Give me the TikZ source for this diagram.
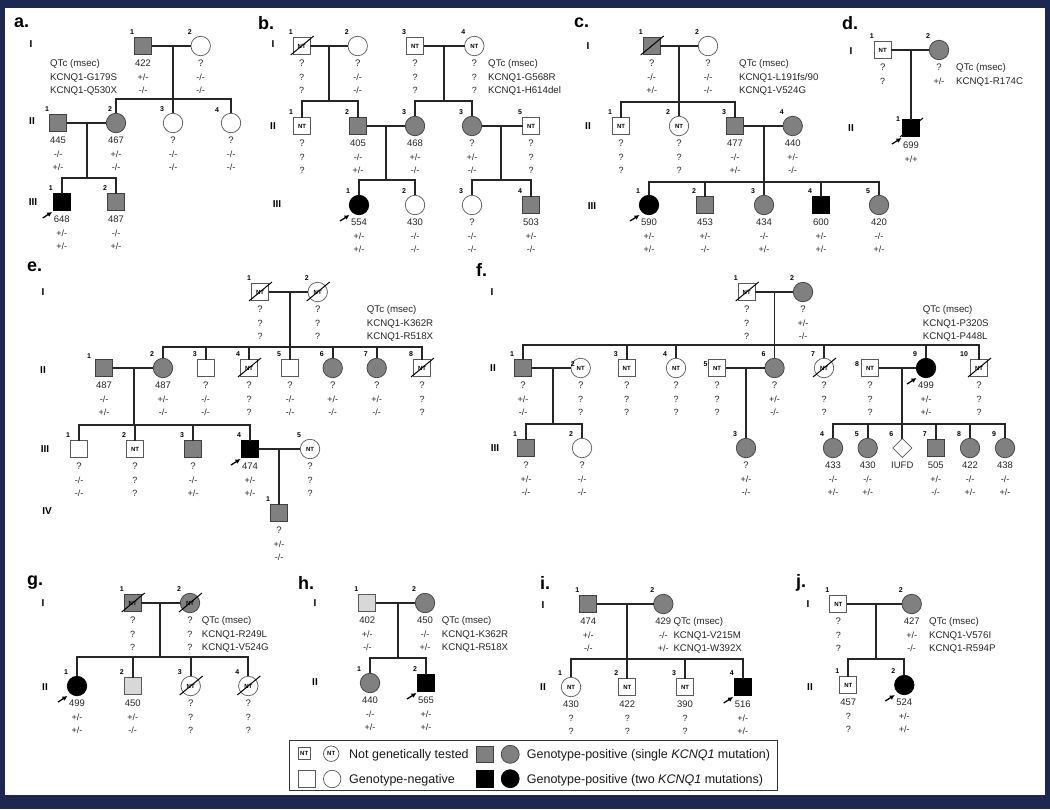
\documentclass[tikz,border=0pt]{standalone}
\usepackage{fontspec}
\setmainfont{Liberation Sans}
\usetikzlibrary{arrows.meta,shapes.geometric}
\definecolor{navyb}{RGB}{28,40,82}
\definecolor{gpcol}{RGB}{128,128,128}
\definecolor{glcol}{RGB}{216,216,216}
\tikzset{
 sym/.style={draw=black!65, line width=0.7pt, inner sep=0pt, outer sep=0pt},
 sq/.style={sym, rectangle, minimum size=17pt},
 ci/.style={sym, circle, minimum size=19.5pt},
 di/.style={sym, diamond, minimum size=19pt},
 fneg/.style={fill=white},
 fgp/.style={fill=gpcol, draw=black!75},
 flt/.style={fill=glcol},
 fbk/.style={fill=black, draw=black},
 nt/.style={label={[ntlab]center:NT}},
 ntlab/.style={font=\fontsize{6}{6}\selectfont\bfseries, inner sep=0pt, text=black},
 numl/.style={font=\fontsize{7}{7}\selectfont\bfseries, inner sep=0pt},
 qt/.style={font=\fontsize{9.5}{10}\selectfont, anchor=base, inner sep=0pt, text=black!85},
 gt/.style={font=\fontsize{9}{9}\selectfont, anchor=base, inner sep=0pt, text=black!85},
 lt/.style={font=\fontsize{9.7}{10}\selectfont, anchor=base west, inner sep=0pt, text=black!85},
 lgt/.style={font=\fontsize{12.5}{13}\selectfont, anchor=base west, inner sep=0pt, text=black!90},
 plab/.style={font=\fontsize{18}{18}\selectfont\bfseries, anchor=west, inner sep=0pt},
 gen/.style={font=\fontsize{10}{10}\selectfont\bfseries, inner sep=0pt},
 pl/.style={line width=1.8pt, black!85},
 decl/.style={line width=1pt, black},
 parr/.style={line width=1.3pt, -{Latex[length=5pt,width=5pt]}},
}
% individual: [number offset]{name}{x}{y}{style}{num}{row1}{row2}{row3}
\newcommand{\ind}[9][-11,-14]{%
 \node[#5] (#2) at (#3,#4) {};
 \node[numl] (#2-n) at ([shift={(#1)}]#2.center) {#6};
 \node[qt] (#2-a) at ([shift={(0,20.5)}]#2.center) {#7};
 \node[gt] (#2-b) at ([shift={(0,34)}]#2.center) {#8};
 \node[gt] (#2-c) at ([shift={(0,47.5)}]#2.center) {#9};
}
\newcommand{\qleg}[5]{%
 \node[lt] (#1-a) at (#2,#3+20.5) {QTc (msec)};
 \node[lt] (#1-b) at (#2,#3+34) {#4};
 \node[lt] (#1-c) at (#2,#3+47.5) {#5};
}
\newcommand{\dec}[1]{\draw[decl] ([shift={(-11,9)}]#1.center) -- ([shift={(12,-10)}]#1.center);}
\newcommand{\prb}[1]{\draw[parr] ([shift={(-19,16)}]#1.center) -- ([shift={(-9.5,10)}]#1.center);}
\begin{document}
\begin{tikzpicture}[x=1pt,y=-1pt]
\fill[navyb] (0,0) rectangle (1050,809);
\fill[white] (5,8) rectangle (1045,795);
\useasboundingbox (0,0) rectangle (1050,809);

% ===== a =====
\node[plab] (a-lab) at (14,23) {a.};
\node[gen] (a-g1) at (31,44) {I};
\node[gen] (a-g2) at (32,121) {II};
\node[gen] (a-g3) at (33,202) {III};
\ind{a-I1}{143}{46}{sq,fgp}{1}{422}{+/-}{-/-}
\ind{a-I2}{200.7}{46}{ci,fneg}{2}{?}{-/-}{-/-}
\qleg{a-q}{50}{46}{KCNQ1-G179S}{KCNQ1-Q530X}
\ind{a-II1}{58}{123}{sq,fgp}{1}{445}{-/-}{+/-}
\ind[-6,-14]{a-II2}{116}{123}{ci,fgp}{2}{467}{+/-}{-/-}
\ind{a-II3}{173}{123}{ci,fneg}{3}{?}{-/-}{-/-}
\ind[-14,-13]{a-II4}{231}{123}{ci,fneg}{4}{?}{-/-}{-/-}
\ind{a-III1}{61.7}{202}{sq,fbk}{1}{648}{+/-}{+/-}
\ind{a-III2}{116}{202}{sq,fgp}{2}{487}{-/-}{+/-}
\prb{a-III1}
\coordinate (a-m1) at (173,46); \coordinate (a-s1) at (173,99);
\coordinate (a-m2) at (87,123); \coordinate (a-s2) at (87,178);
\draw[pl] (a-I1) -- (a-I2);
\draw[pl] (a-m1) -- (a-II3);
\draw[pl] (a-II2) |- (a-s1) -| (a-II4);
\draw[pl] (a-II1) -- (a-II2);
\draw[pl] (a-m2) -- (a-s2);
\draw[pl] (a-III1) |- (a-s2) -| (a-III2);

% ===== b =====
\node[plab] (b-lab) at (258,23) {b.};
\node[gen] (b-g1) at (273,44) {I};
\node[gen] (b-g2) at (273,126) {II};
\node[gen] (b-g3) at (277,204) {III};
\ind{b-I1}{301.7}{46}{sq,fneg,nt}{1}{?}{?}{?}
\ind{b-I2}{357.7}{46}{ci,fneg}{2}{?}{-/-}{-/-}
\ind{b-I3}{415}{46}{sq,fneg,nt}{3}{?}{?}{?}
\ind{b-I4}{474.3}{46}{ci,fneg,nt}{4}{?}{?}{?}
\qleg{b-q}{488}{46}{KCNQ1-G568R}{KCNQ1-H614del}
\ind{b-II1}{302}{126}{sq,fneg,nt}{1}{?}{?}{?}
\ind{b-II2}{358}{126}{sq,fgp}{2}{405}{-/-}{+/-}
\ind{b-II3}{415}{126}{ci,fgp}{3}{468}{+/-}{-/-}
\ind{b-II4}{472}{126}{ci,fgp}{3}{?}{+/-}{-/-}
\ind{b-II5}{531}{126}{sq,fneg,nt}{5}{?}{?}{?}
\ind{b-III1}{359}{205}{ci,fbk}{1}{554}{+/-}{+/-}
\ind{b-III2}{415}{205}{ci,fneg}{2}{430}{-/-}{-/-}
\ind{b-III3}{472}{205}{ci,fneg}{3}{?}{-/-}{-/-}
\ind{b-III4}{531}{205}{sq,fgp}{4}{503}{+/-}{-/-}
\dec{b-I1}
\prb{b-III1}
\coordinate (b-m1) at (329,46); \coordinate (b-s1) at (329,101);
\coordinate (b-m2) at (444,46); \coordinate (b-s2) at (444,101);
\coordinate (b-m3) at (386,126); \coordinate (b-s3) at (386,180);
\coordinate (b-m4) at (501,126); \coordinate (b-s4) at (501,180);
\draw[pl] (b-I1) -- (b-I2);
\draw[pl] (b-m1) -- (b-s1);
\draw[pl] (b-II1) |- (b-s1) -| (b-II2);
\draw[pl] (b-I3) -- (b-I4);
\draw[pl] (b-m2) -- (b-s2);
\draw[pl] (b-II3) |- (b-s2) -| (b-II4);
\draw[pl] (b-II2) -- (b-II3);
\draw[pl] (b-m3) -- (b-s3);
\draw[pl] (b-III1) |- (b-s3) -| (b-III2);
\draw[pl] (b-II4) -- (b-II5);
\draw[pl] (b-m4) -- (b-s4);
\draw[pl] (b-III3) |- (b-s4) -| (b-III4);

% ===== c =====
\node[plab] (c-lab) at (574,23) {c.};
\node[gen] (c-g1) at (588,46) {I};
\node[gen] (c-g2) at (588,126) {II};
\node[gen] (c-g3) at (592,206) {III};
\ind{c-I1}{651.7}{46}{sq,fgp}{1}{?}{-/-}{+/-}
\ind{c-I2}{708}{46}{ci,fneg}{2}{?}{-/-}{-/-}
\qleg{c-q}{739}{46}{KCNQ1-L191fs/90}{KCNQ1-V524G}
\ind{c-II1}{621}{126}{sq,fneg,nt}{1}{?}{?}{?}
\ind{c-II2}{679}{126}{ci,fneg,nt}{2}{?}{?}{?}
\ind{c-II3}{735}{126}{sq,fgp}{3}{477}{-/-}{+/-}
\ind{c-II4}{792.7}{126}{ci,fgp}{4}{440}{+/-}{-/-}
\ind{c-III1}{649}{205}{ci,fbk}{1}{590}{+/-}{+/-}
\ind{c-III2}{705}{205}{sq,fgp}{2}{453}{+/-}{-/-}
\ind{c-III3}{764}{205}{ci,fgp}{3}{434}{-/-}{+/-}
\ind{c-III4}{821}{205}{sq,fbk}{4}{600}{+/-}{+/-}
\ind{c-III5}{879}{205}{ci,fgp}{5}{420}{-/-}{+/-}
\dec{c-I1}
\prb{c-III1}
\coordinate (c-m1) at (679,46); \coordinate (c-s1) at (679,102);
\coordinate (c-m2) at (764,126); \coordinate (c-s2) at (764,182);
\draw[pl] (c-I1) -- (c-I2);
\draw[pl] (c-m1) -- (c-II2);
\draw[pl] (c-II1) |- (c-s1) -| (c-II3);
\draw[pl] (c-II3) -- (c-II4);
\draw[pl] (c-m2) -- (c-III3);
\draw[pl] (c-III1) |- (c-s2) -| (c-III5);
\draw[pl] (c-III2) -- (c-III2 |- c-s2);
\draw[pl] (c-III4) -- (c-III4 |- c-s2);

% ===== d =====
\node[plab] (d-lab) at (842,23) {d.};
\node[gen] (d-g1) at (851,51) {I};
\node[gen] (d-g2) at (851,128) {II};
\ind{d-I1}{882.7}{50}{sq,fneg,nt}{1}{?}{?}{}
\ind{d-I2}{939}{50}{ci,fgp}{2}{?}{+/-}{}
\node[lt] (d-q-a) at (956,70.5) {QTc (msec)};
\node[lt] (d-q-b) at (956,84) {KCNQ1-R174C};
\ind[-13,-9]{d-II1}{911}{128}{sq,fbk}{1}{699}{+/+}{}
\dec{d-II1}
\prb{d-II1}
\coordinate (d-m1) at (911,50);
\draw[pl] (d-I1) -- (d-I2);
\draw[pl] (d-m1) -- (d-II1);

% ===== e =====
\node[plab] (e-lab) at (27,267) {e.};
\node[gen] (e-g1) at (43,292) {I};
\node[gen] (e-g2) at (43,370) {II};
\node[gen] (e-g3) at (45,449) {III};
\node[gen] (e-g4) at (47,511) {IV};
\ind{e-I1}{260}{292}{sq,fneg,nt}{1}{?}{?}{?}
\ind{e-I2}{317.7}{292}{ci,fneg,nt}{2}{?}{?}{?}
\qleg{e-q}{366.7}{292}{KCNQ1-K362R}{KCNQ1-R518X}
\ind[-15,-12]{e-II1}{104}{368}{sq,fgp}{1}{487}{-/-}{+/-}
\ind{e-II2}{163}{368}{ci,fgp}{2}{487}{+/-}{-/-}
\ind{e-II3}{205.7}{368}{sq,fneg}{3}{?}{-/-}{-/-}
\ind{e-II4}{249}{368}{sq,fneg,nt}{4}{?}{?}{?}
\ind{e-II5}{290}{368}{sq,fneg}{5}{?}{-/-}{-/-}
\ind{e-II6}{332.7}{368}{ci,fgp}{6}{?}{+/-}{-/-}
\ind{e-II7}{376.7}{368}{ci,fgp}{7}{?}{+/-}{-/-}
\ind{e-II8}{422}{368}{sq,fneg,nt}{8}{?}{?}{?}
\ind{e-III1}{79}{449}{sq,fneg}{1}{?}{-/-}{-/-}
\ind{e-III2}{135}{449}{sq,fneg,nt}{2}{?}{?}{?}
\ind{e-III3}{193}{449}{sq,fgp}{3}{?}{-/-}{+/-}
\ind{e-III4}{250}{449}{sq,fbk}{4}{474}{+/-}{+/-}
\ind{e-III5}{310}{449}{ci,fneg,nt}{5}{?}{?}{?}
\ind{e-IV1}{279}{513}{sq,fgp}{1}{?}{+/-}{-/-}
\dec{e-I1} \dec{e-I2} \dec{e-II4} \dec{e-II8}
\prb{e-III4}
\coordinate (e-m1) at (290,292); \coordinate (e-s1) at (290,347);
\coordinate (e-m2) at (134,368); \coordinate (e-s2) at (134,425);
\coordinate (e-m3) at (279,449);
\draw[pl] (e-I1) -- (e-I2);
\draw[pl] (e-m1) -- (e-II5);
\draw[pl] (e-II2) |- (e-s1) -| (e-II8);
\foreach \k in {II3,II4,II6,II7} \draw[pl] (e-\k) -- (e-\k |- e-s1);
\draw[pl] (e-II1) -- (e-II2);
\draw[pl] (e-m2) -- (e-s2);
\draw[pl] (e-III1) |- (e-s2) -| (e-III4);
\foreach \k in {III2,III3} \draw[pl] (e-\k) -- (e-\k |- e-s2);
\draw[pl] (e-III4) -- (e-III5);
\draw[pl] (e-m3) -- (e-IV1);

% ===== f =====
\node[plab] (f-lab) at (476,270) {f.};
\node[gen] (f-g1) at (492,292) {I};
\node[gen] (f-g2) at (493,368) {II};
\node[gen] (f-g3) at (495,448) {III};
\ind{f-I1}{746.7}{292}{sq,fneg,nt}{1}{?}{?}{?}
\ind{f-I2}{803}{292}{ci,fgp}{2}{?}{+/-}{-/-}
\qleg{f-q}{922.7}{292}{KCNQ1-P320S}{KCNQ1-P448L}
\ind{f-II1}{523}{368}{sq,fgp}{1}{?}{+/-}{-/-}
\ind[-8,-4]{f-II2}{580.7}{368}{ci,fneg,nt}{2}{?}{?}{?}
\ind{f-II3}{626.7}{368}{sq,fneg,nt}{3}{?}{?}{?}
\ind{f-II4}{676}{368}{ci,fneg,nt}{4}{?}{?}{?}
\ind[-11.5,-4]{f-II5}{717}{368}{sq,fneg,nt}{5}{?}{?}{?}
\ind{f-II6}{774.5}{368}{ci,fgp}{6}{?}{+/-}{-/-}
\ind{f-II7}{824}{368}{ci,fneg,nt}{7}{?}{?}{?}
\ind[-13,-4]{f-II8}{870}{368}{sq,fneg,nt}{8}{?}{?}{?}
\ind{f-II9}{926}{368}{ci,fbk}{9}{499}{+/-}{+/-}
\ind[-15,-14]{f-II10}{979}{368}{sq,fneg,nt}{10}{?}{?}{?}
\ind{f-III1}{526}{448}{sq,fgp}{1}{?}{+/-}{-/-}
\ind{f-III2}{582}{448}{ci,fneg}{2}{?}{-/-}{-/-}
\ind{f-III3}{746}{448}{ci,fgp}{3}{?}{+/-}{-/-}
\ind{f-III4}{833}{448}{ci,fgp}{4}{433}{-/-}{+/-}
\ind{f-III5}{867.7}{448}{ci,fgp}{5}{430}{-/-}{+/-}
\ind{f-III6}{902.3}{448}{di,fneg}{6}{IUFD}{}{}
\ind{f-III7}{935.7}{448}{sq,fgp}{7}{505}{+/-}{-/-}
\ind{f-III8}{970}{448}{ci,fgp}{8}{422}{-/-}{+/-}
\ind{f-III9}{1005}{448}{ci,fgp}{9}{438}{-/-}{+/-}
\dec{f-I1} \dec{f-II7} \dec{f-II10}
\prb{f-II9}
\coordinate (f-m1) at (774.5,292); \coordinate (f-s1) at (774.5,345);
\coordinate (f-m2) at (552.7,368); \coordinate (f-s2) at (552.7,424);
\coordinate (f-m3) at (746,368);
\coordinate (f-m4) at (902.3,368); \coordinate (f-s4) at (902.3,424);
\draw[pl] (f-I1) -- (f-I2);
\draw[pl] (f-m1) -- (f-II6);
\draw[pl] (f-II1) |- (f-s1) -| (f-II10);
\foreach \k in {II3,II4,II7,II9} \draw[pl] (f-\k) -- (f-\k |- f-s1);
\draw[pl] (f-II1) -- (f-II2);
\draw[pl] (f-m2) -- (f-s2);
\draw[pl] (f-III1) |- (f-s2) -| (f-III2);
\draw[pl] (f-II5) -- (f-II6);
\draw[pl] (f-m3) -- (f-III3);
\draw[pl] (f-II8) -- (f-II9);
\draw[pl] (f-m4) -- (f-III6);
\draw[pl] (f-III4) |- (f-s4) -| (f-III9);
\foreach \k in {III5,III7,III8} \draw[pl] (f-\k) -- (f-\k |- f-s4);

% ===== g =====
\node[plab] (g-lab) at (27,583) {g.};
\node[gen] (g-g1) at (43,603) {I};
\node[gen] (g-g2) at (45,687) {II};
\ind{g-I1}{132.7}{603}{sq,fgp,nt}{1}{?}{?}{?}
\ind{g-I2}{190}{603}{ci,fgp,nt}{2}{?}{?}{?}
\qleg{g-q}{201.7}{603}{KCNQ1-R249L}{KCNQ1-V524G}
\ind{g-II1}{77}{686}{ci,fbk}{1}{499}{+/-}{+/-}
\ind{g-II2}{132.7}{686}{sq,flt}{2}{450}{+/-}{-/-}
\ind{g-II3}{190.7}{686}{ci,fneg,nt}{3}{?}{?}{?}
\ind{g-II4}{248.3}{686}{ci,fneg,nt}{4}{?}{?}{?}
\dec{g-I1} \dec{g-I2} \dec{g-II3} \dec{g-II4}
\prb{g-II1}
\coordinate (g-m1) at (160,603); \coordinate (g-s1) at (160,657);
\draw[pl] (g-I1) -- (g-I2);
\draw[pl] (g-m1) -- (g-s1);
\draw[pl] (g-II1) |- (g-s1) -| (g-II4);
\foreach \k in {II2,II3} \draw[pl] (g-\k) -- (g-\k |- g-s1);

% ===== h =====
\node[plab] (h-lab) at (298,583) {h.};
\node[gen] (h-g1) at (315,603) {I};
\node[gen] (h-g2) at (315,682) {II};
\ind{h-I1}{367.3}{603}{sq,flt}{1}{402}{+/-}{-/-}
\ind{h-I2}{425}{603}{ci,fgp}{2}{450}{-/-}{+/-}
\qleg{h-q}{441.7}{603}{KCNQ1-K362R}{KCNQ1-R518X}
\ind{h-II1}{370}{683}{ci,fgp}{1}{440}{-/-}{+/-}
\ind{h-II2}{426}{683}{sq,fbk}{2}{565}{+/-}{+/-}
\prb{h-II2}
\coordinate (h-m1) at (398,603); \coordinate (h-s1) at (398,658);
\draw[pl] (h-I1) -- (h-I2);
\draw[pl] (h-m1) -- (h-s1);
\draw[pl] (h-II1) |- (h-s1) -| (h-II2);

% ===== i =====
\node[plab] (i-lab) at (540,583) {i.};
\node[gen] (i-g1) at (543,605) {I};
\node[gen] (i-g2) at (543,687) {II};
\ind{i-I1}{588.3}{604}{sq,fgp}{1}{474}{+/-}{-/-}
\ind{i-I2}{663.3}{604}{ci,fgp}{2}{429}{-/-}{+/-}
\qleg{i-q}{673.3}{604}{KCNQ1-V215M}{KCNQ1-W392X}
\ind{i-II1}{571}{687}{ci,fneg,nt}{1}{430}{?}{?}
\ind{i-II2}{627.3}{687}{sq,fneg,nt}{2}{422}{?}{?}
\ind{i-II3}{685}{687}{sq,fneg,nt}{3}{390}{?}{?}
\ind{i-II4}{742.7}{687}{sq,fbk}{4}{516}{+/-}{+/-}
\prb{i-II4}
\coordinate (i-m1) at (627.3,604); \coordinate (i-s1) at (627.3,659);
\draw[pl] (i-I1) -- (i-I2);
\draw[pl] (i-m1) -- (i-II2);
\draw[pl] (i-II1) |- (i-s1) -| (i-II4);
\draw[pl] (i-II3) -- (i-II3 |- i-s1);

% ===== j =====
\node[plab] (j-lab) at (796,583) {j.};
\node[gen] (j-g1) at (808,604) {I};
\node[gen] (j-g2) at (810,687) {II};
\ind{j-I1}{838.3}{604}{sq,fneg,nt}{1}{?}{?}{?}
\ind{j-I2}{911.7}{604}{ci,fgp}{2}{427}{+/-}{-/-}
\qleg{j-q}{929}{604}{KCNQ1-V576I}{KCNQ1-R594P}
\ind{j-II1}{848.3}{685}{sq,fneg,nt}{1}{457}{?}{?}
\ind{j-II2}{904.3}{685}{ci,fbk}{2}{524}{+/-}{+/-}
\prb{j-II2}
\coordinate (j-m1) at (875.7,604); \coordinate (j-s1) at (875.7,659);
\draw[pl] (j-I1) -- (j-I2);
\draw[pl] (j-m1) -- (j-s1);
\draw[pl] (j-II1) |- (j-s1) -| (j-II2);

% ===== legend =====
\node[draw=black!80, line width=0.9pt, minimum width=488pt, minimum height=50.7pt, inner sep=0pt] (leg) at (533.3,765.35) {};
\node[sq,fneg,nt,minimum size=12pt] (lg-nts) at (304.2,753.7) {};
\node[ci,fneg,nt,minimum size=15.5pt] (lg-ntc) at (331.2,753.7) {};
\node[lgt] (lg-t1) at (349,758.2) {Not genetically tested};
\node[sq,fgp,minimum size=16.5pt] (lg-gs) at (485,754.3) {};
\node[ci,fgp,minimum size=18pt] (lg-gc) at (510.2,754.3) {};
\node[lgt] (lg-t2) at (526.7,758.5) {Genotype-positive (single \textit{KCNQ1} mutation)};
\node[sq,fneg,minimum size=16.5pt] (lg-ns) at (306.7,779) {};
\node[ci,fneg,minimum size=17.5pt] (lg-nc) at (332.2,779) {};
\node[lgt] (lg-t3) at (349,783.5) {Genotype-negative};
\node[sq,fbk,minimum size=16.5pt] (lg-bs) at (485,778.7) {};
\node[ci,fbk,minimum size=18pt] (lg-bc) at (510.2,778.7) {};
\node[lgt] (lg-t4) at (526.7,783.5) {Genotype-positive (two \textit{KCNQ1} mutations)};
\end{tikzpicture}
\end{document}
